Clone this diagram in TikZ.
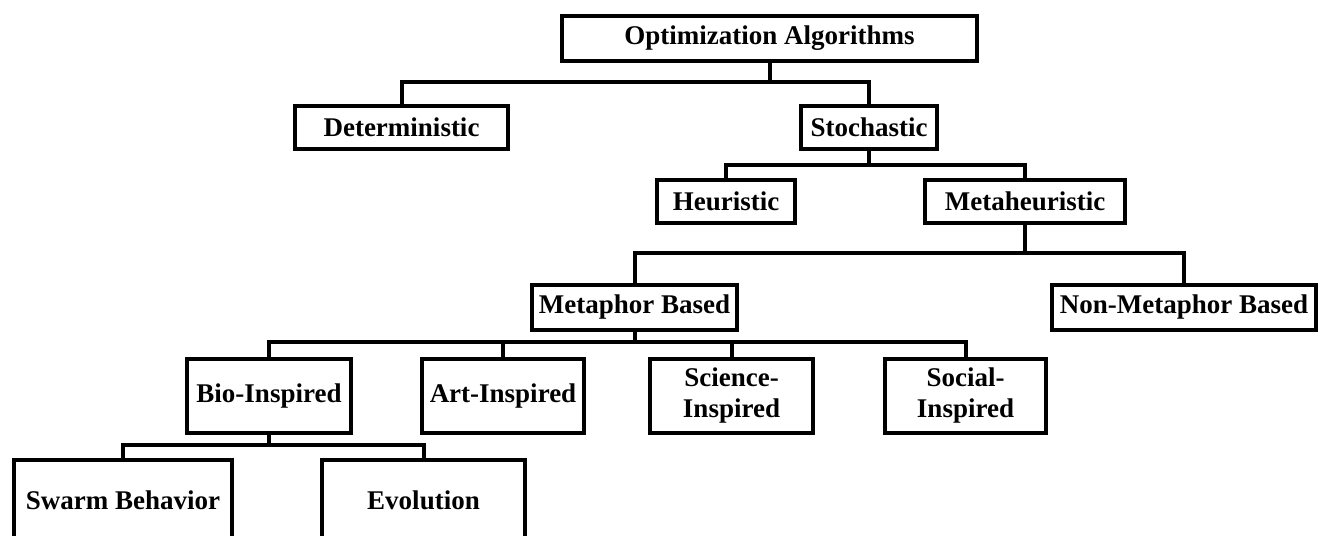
\documentclass[tikz,border=0pt]{standalone}
\usepackage{fontspec}
\setmainfont{Liberation Serif}
\begin{document}
\begin{tikzpicture}[x=1pt, y=-1pt,
    box/.style={draw, line width=4pt, inner sep=0pt, align=center, font=\fontsize{27}{31}\selectfont\bfseries},
    link/.style={line width=4pt}]
    \useasboundingbox (0,0) rectangle (1321,535);
    \node[box, minimum width=415, minimum height=45] (opt) at (769.5,38.5) {Optimization Algorithms};
    \node[box, minimum width=213, minimum height=43] (det) at (401.5,127.5) {Deterministic};
    \node[box, minimum width=136, minimum height=43] (sto) at (869,127.5) {Stochastic};
    \node[box, minimum width=138, minimum height=43] (heu) at (726,201.5) {Heuristic};
    \node[box, minimum width=200, minimum height=43] (meta) at (1025,201.5) {Metaheuristic};
    \node[box, minimum width=205, minimum height=45] (mb) at (634.5,307.5) {Metaphor Based};
    \node[box, minimum width=264, minimum height=45] (nmb) at (1184,307.5) {Non-Metaphor Based};
    \node[box, minimum width=164, minimum height=74] (bio) at (269,396) {Bio-Inspired};
    \node[box, minimum width=162, minimum height=74] (art) at (503,396) {Art-Inspired};
    \node[box, minimum width=163, minimum height=74] (sci) at (731.5,396) {Science-\\Inspired};
    \node[box, minimum width=161, minimum height=74] (soc) at (965.5,396) {Social-\\Inspired};
    \node[box, minimum width=218, minimum height=80] (swarm) at (123,500) {Swarm Behavior};
    \node[box, minimum width=203, minimum height=80] (evo) at (423.5,500) {Evolution};
    \coordinate (j1) at (769.5,82);
    \coordinate (j2) at (869,165);
    \coordinate (j3) at (1025,253);
    \coordinate (j4) at (634.5,342);
    \coordinate (j5) at (269,445);
    \draw[link] (opt.south) -- (j1);
    \draw[link] (det.north) |- (j1) -| (sto.north);
    \draw[link] (sto.south) -- (j2);
    \draw[link] (heu.north) |- (j2) -| (meta.north);
    \draw[link] (meta.south) -- (j3);
    \draw[link] (mb.north) |- (j3) -| (nmb.north);
    \draw[link] (mb.south) -- (j4);
    \draw[link] (bio.north) |- (j4) -| (soc.north);
    \draw[link] (art.north) -- (art.north |- j4);
    \draw[link] (sci.north) -- (sci.north |- j4);
    \draw[link] (bio.south) -- (j5);
    \draw[link] (swarm.north) |- (j5) -| (evo.north);
\end{tikzpicture}
\end{document}
